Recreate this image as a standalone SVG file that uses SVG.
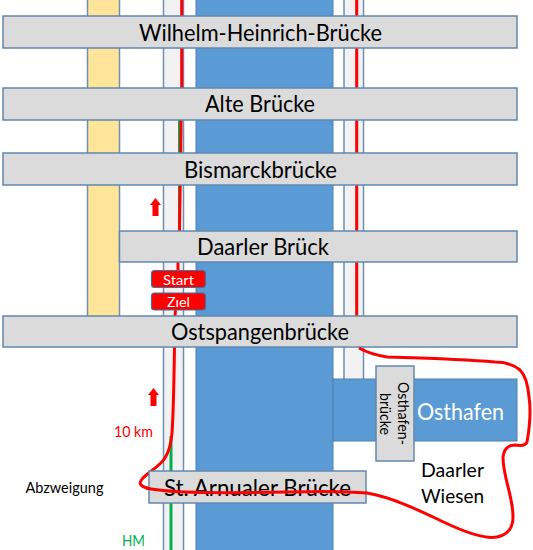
<svg xmlns="http://www.w3.org/2000/svg" width="533" height="550" viewBox="0 0 533 550">
<style>
text{font-family:Lato,"Noto Sans",sans-serif;fill:#000;text-anchor:middle}
.br{fill:#dbdbdb;stroke:#6288ae;stroke-width:1.5}
.strip{fill:#f2f2f2;stroke:#6f8fb3;stroke-width:1.5}
.water{fill:#5b9bd5;stroke:#4f81ad;stroke-width:1}
.lbl{font-size:24px}
.route{fill:none;stroke:#f00;stroke-width:3}
.tag{fill:#f00;stroke:#41719c;stroke-width:1.2}
.tagt{fill:#fff;font-size:14px}
</style>
<g id="yellow-road"><rect x="87.500" y="-2" width="32" height="320" fill="#ffe599" stroke="#6f8fb3" stroke-width="1.500"/></g>
<g id="left-strip"><rect x="163.500" y="-2" width="20" height="554" class="strip"/></g>
<g id="river"><rect x="196" y="-2" width="137" height="554" class="water"/></g>
<g id="right-strip"><rect x="344" y="-2" width="19.500" height="382" class="strip"/></g>
<g id="osthafen"><rect x="333" y="379" width="184" height="62" class="water"/><text x="460.500" y="420" font-size="24" textLength="87" lengthAdjust="spacingAndGlyphs" style="fill:#fff">Osthafen</text></g>
<g id="connectors">
<path d="M171 436V550" fill="none" stroke="#00b050" stroke-width="3"/>
<path d="M179 120V231" fill="none" stroke="#00b050" stroke-width="2"/>
<path class="route" d="M181.700 -2V120M181 120C181 150 180 190 179.500 231M178 262V270M175.500 310L175 316M174.500 347C174 380 173 420 172 433C171 445 168 453 165 458C160 466 150 471 143 478C138 483 140 486 147 488C153 490 160 491 167 492M356.700 -2V316"/>
</g>
<g id="wilhelm"><rect x="3" y="16" width="514" height="32" class="br"/><text x="260.500" y="41" class="lbl" textLength="243" lengthAdjust="spacingAndGlyphs">Wilhelm-Heinrich-Brücke</text></g>
<g id="alte"><rect x="3" y="88" width="514" height="32" class="br"/><text x="260" y="112" class="lbl" textLength="110" lengthAdjust="spacingAndGlyphs">Alte Brücke</text></g>
<g id="bismarck"><rect x="3" y="153" width="514" height="32" class="br"/><text x="260.500" y="178" class="lbl" textLength="153" lengthAdjust="spacingAndGlyphs">Bismarckbrücke</text></g>
<g id="daarler"><rect x="119.500" y="231" width="397.500" height="31" class="br"/><text x="263" y="255" class="lbl" textLength="132" lengthAdjust="spacingAndGlyphs">Daarler Brück</text></g>
<g id="ost"><rect x="3" y="316" width="514" height="31" class="br"/><text x="260" y="340" class="lbl" textLength="178" lengthAdjust="spacingAndGlyphs">Ostspangenbrücke</text></g>
<g id="arnual"><rect x="149" y="471" width="217" height="32" class="br"/><text x="257.500" y="496" class="lbl" textLength="187" lengthAdjust="spacingAndGlyphs">St. Arnualer Brücke</text></g>
<path class="route" d="M146 488C175 494 230 493 290 492C320 491 345 491 367 493C395 498 420 511 450 525C470 534 487 539 497 537C508 535 513 527 513 517C513 495 503 478 503 457C504 449 508 445 515 445C521 446 526 445 527 442C530 425 531 410 529 397C528 385 525 375 520 370C514 365 507 362 495 362C460 359 420 358 387 357C375 355 366 352 359 348"/>
<g id="osthafenbruecke"><rect x="376" y="366" width="38" height="95" class="br"/><text transform="translate(398 413.500) rotate(90)" font-size="15" textLength="63" lengthAdjust="spacingAndGlyphs">Osthafen-</text><text transform="translate(379.500 414) rotate(90)" font-size="15" textLength="42" lengthAdjust="spacingAndGlyphs">brücke</text></g>
<g id="start"><rect x="151.500" y="270.500" width="54" height="17" rx="3" class="tag"/><text x="178.500" y="284.500" class="tagt" textLength="31" lengthAdjust="spacingAndGlyphs">Start</text></g>
<g id="ziel"><rect x="151.500" y="293" width="54" height="17" rx="3" class="tag"/><text x="178.500" y="307" class="tagt" textLength="23" lengthAdjust="spacingAndGlyphs">Ziel</text><path d="M177 293V299" stroke="#f00" stroke-width="2.500"/></g>
<path id="arrow-top" d="M155.500 198l5.500 7h-2.500v11h-6v-11h-2.500z" fill="#f00"/>
<path id="arrow-bottom" d="M153.500 388l5.500 7h-2.500v11h-6v-11h-2.500z" fill="#f00"/>
<text x="133.500" y="437" font-size="14.500" textLength="39" lengthAdjust="spacingAndGlyphs" style="fill:#f00">10 km</text>
<text x="64.500" y="493" font-size="14.500" textLength="78" lengthAdjust="spacingAndGlyphs">Abzweigung</text>
<text x="133.500" y="546" font-size="15" textLength="23" lengthAdjust="spacingAndGlyphs" style="fill:#00b050">HM</text>
<text x="452.500" y="477" font-size="19" textLength="63" lengthAdjust="spacingAndGlyphs">Daarler</text>
<text x="452.500" y="503" font-size="19" textLength="63" lengthAdjust="spacingAndGlyphs">Wiesen</text>
</svg>
